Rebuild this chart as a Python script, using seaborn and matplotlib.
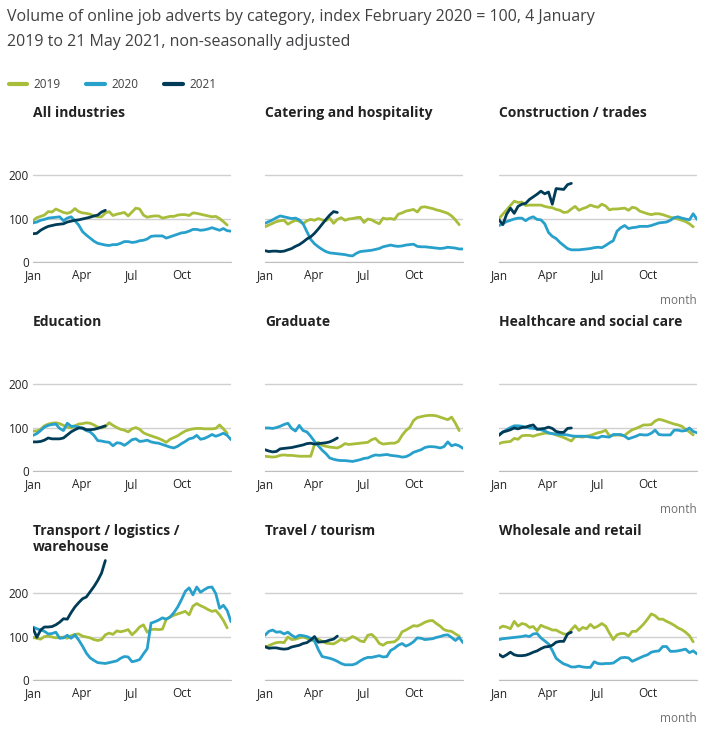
import pandas as pd
import matplotlib.pyplot as plt
import seaborn as sns

# weekly index values, February 2020 = 100
years = ['2019', '2020', '2021']
colors = ['#a8bd3a', '#27a0cc', '#003c57']
month_ticks = [0, 90, 181, 273]
month_labels = ['Jan', 'Apr', 'Jul', 'Oct']

categories = ['All industries', 'Catering and hospitality', 'Construction / trades',
              'Education', 'Graduate', 'Healthcare and social care',
              'Transport / logistics /\nwarehouse', 'Travel / tourism', 'Wholesale and retail']

all_2019 = [95, 102, 105, 108, 116, 115, 122, 118, 114, 112,
            115, 123, 116, 113, 112, 110, 106, 104, 104, 113,
            116, 107, 110, 112, 114, 106, 115, 124, 122, 108,
            103, 105, 106, 106, 101, 103, 105, 105, 108, 109,
            109, 107, 113, 112, 110, 108, 106, 104, 105, 100,
            93, 85]
all_2020 = [90, 92, 96, 98, 101, 102, 103, 104, 95, 101,
            104, 95, 85, 70, 62, 55, 48, 43, 41, 39,
            38, 40, 40, 43, 47, 47, 45, 46, 49, 50,
            53, 59, 60, 60, 60, 55, 58, 61, 64, 67,
            68, 71, 75, 75, 73, 74, 76, 79, 76, 73,
            77, 72, 71]
all_2021 = [65, 66, 73, 78, 82, 84, 86, 87, 88, 92,
            94, 96, 97, 99, 101, 103, 106, 108, 115, 119]

cat_2019 = [81, 85, 89, 93, 95, 96, 87, 92, 96, 94,
            88, 95, 98, 96, 100, 97, 95, 101, 89, 98,
            102, 96, 99, 100, 102, 103, 91, 99, 97, 92,
            88, 101, 99, 100, 98, 110, 113, 117, 119, 121,
            115, 126, 127, 125, 123, 120, 118, 115, 112, 106,
            97, 86]
cat_2020 = [89, 93, 97, 102, 106, 104, 102, 100, 101, 97,
            88, 70, 52, 42, 35, 29, 24, 21, 20, 19,
            18, 17, 15, 14, 20, 24, 25, 26, 27, 29,
            31, 35, 37, 39, 37, 36, 37, 39, 40, 41,
            36, 35, 35, 34, 33, 32, 31, 32, 34, 33,
            32, 30, 30]
cat_2021 = [26, 24, 25, 25, 24, 25, 28, 31, 36, 40,
            46, 53, 58, 66, 76, 87, 98, 108, 116, 114]

con_2019 = [100, 110, 120, 130, 140, 137, 138, 130, 131, 131,
            131, 131, 128, 126, 125, 121, 119, 114, 115, 122,
            128, 119, 123, 126, 131, 128, 126, 133, 129, 120,
            122, 122, 123, 124, 119, 126, 124, 117, 114, 111,
            109, 111, 111, 109, 106, 103, 101, 99, 96, 93,
            88, 81]
con_2020 = [84, 88, 93, 96, 99, 101, 101, 95, 101, 104,
            98, 97, 88, 68, 59, 54, 45, 38, 31, 28,
            28, 28, 29, 30, 31, 33, 34, 33, 38, 44,
            49, 71, 79, 84, 77, 79, 80, 82, 82, 82,
            84, 87, 90, 91, 92, 96, 102, 104, 101, 99,
            97, 111, 98]
con_2021 = [97, 86, 110, 124, 112, 128, 133, 135, 144, 150,
            156, 163, 157, 161, 133, 169, 168, 167, 178, 181]

edu_2019 = [92, 92, 96, 104, 108, 110, 111, 109, 105, 101,
            99, 104, 108, 109, 111, 110, 106, 101, 99, 102,
            111, 105, 100, 96, 94, 90, 97, 100, 96, 88,
            84, 81, 78, 75, 71, 66, 73, 77, 81, 87,
            92, 95, 97, 98, 98, 97, 97, 97, 98, 106,
            97, 87]
edu_2020 = [82, 86, 93, 101, 105, 107, 108, 98, 93, 110,
            103, 103, 101, 98, 93, 90, 82, 70, 69, 67,
            66, 58, 65, 64, 59, 65, 72, 74, 68, 69,
            71, 67, 65, 64, 61, 58, 55, 53, 57, 63,
            68, 74, 76, 82, 73, 75, 79, 84, 80, 83,
            87, 82, 72]
edu_2021 = [67, 67, 68, 71, 76, 74, 74, 74, 76, 83,
            90, 95, 99, 99, 95, 95, 96, 98, 101, 104]

grad_2019 = [34, 33, 32, 33, 36, 37, 36, 36, 35, 34,
             34, 34, 34, 61, 66, 59, 57, 55, 54, 53,
             57, 63, 61, 62, 63, 64, 65, 66, 72, 75,
             66, 62, 63, 64, 64, 68, 82, 93, 100, 116,
             123, 125, 127, 128, 128, 127, 124, 121, 118, 124,
             110, 93]
grad_2020 = [99, 99, 98, 100, 103, 107, 110, 98, 92, 105,
             93, 90, 80, 68, 58, 48, 40, 30, 27, 25,
             24, 24, 23, 22, 24, 26, 29, 30, 34, 37,
             36, 37, 38, 36, 35, 34, 32, 33, 37, 43,
             46, 49, 54, 56, 56, 55, 53, 56, 67, 58,
             61, 58, 52]
grad_2021 = [49, 46, 44, 45, 51, 52, 53, 54, 56, 58,
             60, 63, 64, 62, 63, 64, 65, 67, 71, 76]

hea_2019 = [63, 66, 67, 68, 75, 73, 81, 82, 82, 80,
            83, 85, 87, 87, 86, 83, 80, 77, 73, 69,
            79, 79, 78, 80, 82, 85, 88, 90, 94, 81,
            82, 83, 82, 82, 89, 95, 98, 102, 106, 106,
            107, 115, 119, 117, 114, 111, 108, 106, 103, 96,
            90, 83]
hea_2020 = [84, 89, 95, 100, 104, 104, 103, 101, 99, 98,
            97, 95, 92, 88, 86, 85, 84, 84, 83, 81,
            80, 80, 80, 80, 78, 77, 76, 80, 79, 78,
            84, 84, 84, 80, 74, 77, 80, 84, 83, 83,
            87, 94, 84, 83, 83, 83, 94, 94, 92, 93,
            99, 91, 88]
hea_2021 = [82, 90, 92, 95, 99, 97, 100, 101, 104, 106,
            96, 97, 98, 101, 98, 91, 89, 89, 98, 99]

tra_2019 = [98, 96, 94, 100, 101, 99, 97, 98, 99, 96,
            102, 105, 106, 101, 99, 97, 93, 91, 93, 104,
            108, 105, 113, 111, 113, 116, 104, 112, 122, 127,
            110, 116, 117, 116, 117, 140, 145, 149, 152, 155,
            158, 150, 170, 176, 171, 167, 162, 158, 160, 150,
            137, 120]
tra_2020 = [122, 118, 115, 112, 106, 107, 110, 96, 97, 103,
            96, 104, 92, 78, 62, 51, 45, 40, 39, 38,
            40, 42, 44, 50, 54, 53, 42, 44, 47, 60,
            72, 131, 134, 138, 143, 140, 145, 155, 168, 185,
            204, 212, 196, 214, 202, 208, 213, 214, 199, 165,
            172, 160, 134]
tra_2021 = [119, 98, 115, 122, 122, 123, 127, 133, 141, 140,
            155, 168, 178, 187, 191, 203, 215, 229, 246, 275]

tou_2019 = [75, 79, 83, 86, 87, 86, 99, 93, 94, 97,
            99, 96, 92, 90, 94, 89, 85, 84, 83, 88,
            94, 90, 95, 100, 96, 90, 88, 103, 105, 97,
            84, 80, 86, 87, 88, 95, 111, 115, 120, 125,
            124, 128, 133, 136, 137, 130, 124, 116, 113, 112,
            106, 101]
tou_2020 = [103, 112, 115, 110, 111, 106, 110, 103, 98, 103,
            102, 100, 96, 90, 70, 54, 52, 50, 47, 43,
            38, 35, 35, 35, 38, 44, 49, 52, 52, 54,
            56, 53, 54, 68, 73, 80, 84, 78, 82, 88,
            97, 96, 93, 94, 95, 98, 100, 103, 104, 98,
            91, 98, 86]
tou_2021 = [77, 73, 74, 74, 72, 71, 72, 76, 78, 80,
            84, 86, 92, 100, 87, 88, 89, 92, 94, 101]

who_2019 = [119, 124, 122, 118, 135, 124, 130, 128, 121, 123,
            113, 126, 122, 119, 115, 115, 110, 106, 105, 116,
            125, 114, 121, 118, 128, 120, 124, 130, 124, 108,
            93, 104, 107, 107, 101, 112, 112, 120, 129, 140,
            152, 148, 140, 140, 135, 131, 126, 120, 116, 110,
            102, 88]
who_2020 = [93, 95, 96, 97, 98, 99, 100, 102, 100, 106,
            107, 97, 90, 83, 68, 50, 43, 37, 34, 30,
            30, 32, 30, 29, 29, 42, 38, 37, 38, 38,
            39, 45, 51, 52, 51, 43, 47, 51, 55, 58,
            64, 66, 67, 77, 77, 66, 66, 67, 69, 71,
            63, 67, 60]
who_2021 = [59, 53, 58, 64, 58, 56, 56, 57, 60, 64,
            67, 72, 76, 77, 80, 87, 89, 89, 106, 110]

series = [
    (all_2019, all_2020, all_2021),
    (cat_2019, cat_2020, cat_2021),
    (con_2019, con_2020, con_2021),
    (edu_2019, edu_2020, edu_2021),
    (grad_2019, grad_2020, grad_2021),
    (hea_2019, hea_2020, hea_2021),
    (tra_2019, tra_2020, tra_2021),
    (tou_2019, tou_2020, tou_2021),
    (who_2019, who_2020, who_2021),
]

rows = []
for cat, vals in zip(categories, series):
    for yr, v in zip(years, vals):
        for i, val in enumerate(v):
            rows.append({'category': cat, 'year': yr, 'day': 7 * i, 'index': val})
df = pd.DataFrame(rows)

sns.set_style('white')
plt.rcParams['font.family'] = ['Open Sans', 'DejaVu Sans']

fig = plt.figure(figsize=(7.22, 7.39), dpi=100)
W, H = 722, 739
col_left = [33, 265, 499]
row_zero = [262, 471, 680]
ax_w, ax_h = 198, 126

for k, cat in enumerate(categories):
    r, c = divmod(k, 3)
    ax = fig.add_axes([col_left[c] / W, (H - row_zero[r]) / H, ax_w / W, ax_h / H])
    sns.lineplot(data=df[df['category'] == cat], x='day', y='index', hue='year',
                 palette=dict(zip(years, colors)), linewidth=2.0, ax=ax, legend=False)
    ax.set_xlim(0, 364)
    ax.set_ylim(0, 290)
    ax.set_yticks([0, 100, 200])
    ax.set_xticks(month_ticks)
    ax.set_xticklabels(month_labels)
    ax.grid(axis='y', color='#d0d0d0', linewidth=1)
    ax.set_axisbelow(True)
    for s in ['top', 'right', 'left']:
        ax.spines[s].set_visible(False)
    ax.spines['bottom'].set_color('#bebebe')
    ax.tick_params(axis='x', length=4, color='#bebebe', labelsize=8.5, labelcolor='#222222', pad=1)
    ax.tick_params(axis='y', length=0, labelsize=8.5, labelcolor='#222222', pad=3)
    if c != 0:
        ax.set_yticklabels([])
    ax.set_ylabel('')
    if c == 2:
        ax.set_xlabel('month', loc='right', color='#707070', fontsize=8.5, labelpad=9)
    else:
        ax.set_xlabel('')
    fig.text(col_left[c] / W, 1 - (row_zero[r] - 156) / H, cat, fontsize=10,
             fontweight='bold', color='#222222', va='top', ha='left', linespacing=1.2)

fig.text(7 / W, 1 - 17 / H, 'Volume of online job adverts by category, index February 2020 = 100, 4 January',
         fontsize=11.5, color='#414042', va='center', ha='left')
fig.text(7 / W, 1 - 42 / H, '2019 to 21 May 2021, non-seasonally adjusted',
         fontsize=11.5, color='#414042', va='center', ha='left')

handles = [plt.Line2D([], [], color=col, linewidth=3) for col in colors]
fig.legend(handles, years, loc='center left', bbox_to_anchor=(5 / W, 1 - 85 / H), ncol=3,
           frameon=False, fontsize=8.5, handlelength=1.6, handletextpad=0.5,
           columnspacing=2.2, labelcolor='#414042', borderaxespad=0, borderpad=0.3)

fig.savefig('out.png', dpi=100)
